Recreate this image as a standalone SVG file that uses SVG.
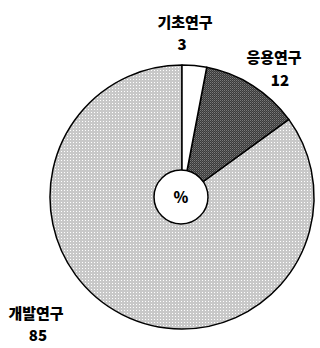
<svg xmlns="http://www.w3.org/2000/svg" width="320" height="348" viewBox="0 0 320 348">
<defs>
<pattern id="light" width="3" height="3" patternUnits="userSpaceOnUse">
<rect width="3" height="3" fill="#c8c8c8"/>
<rect x="1" y="1" width="1" height="1" fill="#ffffff"/>
</pattern>
<pattern id="dark" width="2" height="2" patternUnits="userSpaceOnUse">
<rect width="2" height="2" fill="#3a3a3a"/>
<rect x="0" y="0" width="1" height="1" fill="#7a7a7a"/>
<rect x="1" y="1" width="1" height="1" fill="#5a5a5a"/>
</pattern>
<style>
.slice{stroke:#000;stroke-width:1.5;stroke-linejoin:round}
.lbl{font-family:"Noto Sans CJK KR","Noto Sans",sans-serif;font-weight:900;font-size:15px;fill:#000;text-anchor:middle}
</style>
</defs>
<rect width="320" height="348" fill="#ffffff"/>
<g id="slice-dev">
<path class="slice" fill="url(#light)" d="M182,197 L288.8,119.4 A132,132 0 1 1 182,65 Z"/>
</g>
<g id="slice-applied">
<path class="slice" fill="url(#dark)" d="M182,197 L206.7,67.3 A132,132 0 0 1 288.8,119.4 Z"/>
</g>
<g id="slice-basic">
<path class="slice" fill="#ffffff" d="M182,197 L182,65 A132,132 0 0 1 206.7,67.3 Z"/>
</g>
<g id="center">
<circle cx="181" cy="197" r="27" fill="#ffffff" stroke="#000" stroke-width="1.5"/>
<text class="lbl" x="181" y="203" font-size="16">%</text>
</g>
<g id="label-basic">
<text class="lbl" x="185" y="28">기초연구</text>
<text class="lbl" x="182" y="50">3</text>
</g>
<g id="label-applied">
<text class="lbl" x="274" y="63">응용연구</text>
<text class="lbl" x="280" y="86">12</text>
</g>
<g id="label-dev">
<text class="lbl" x="36" y="319">개발연구</text>
<text class="lbl" x="38" y="341">85</text>
</g>
</svg>
